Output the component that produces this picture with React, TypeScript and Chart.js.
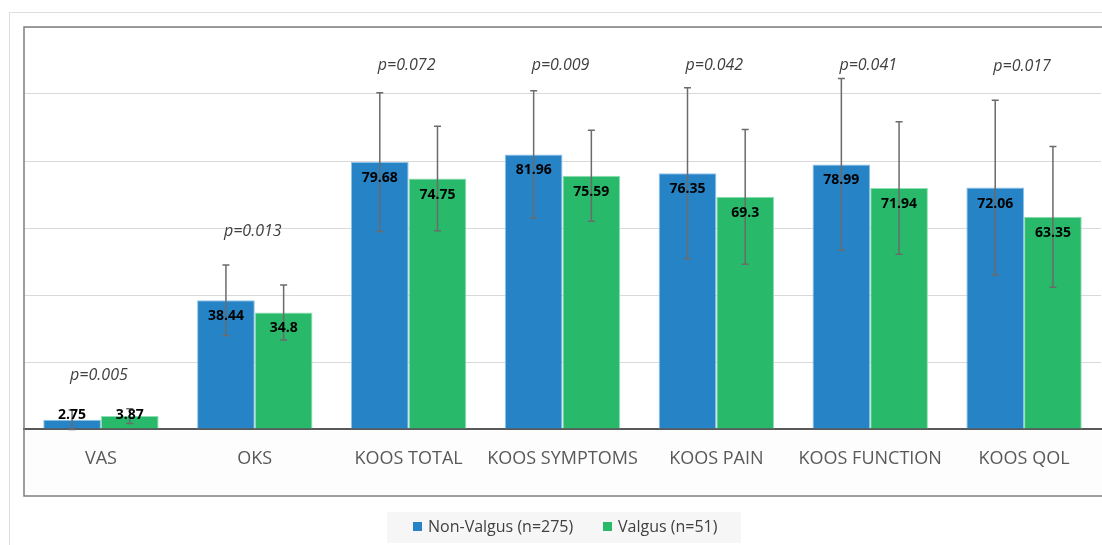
import React, { useEffect, useRef } from "react";
import { Chart, registerables } from "chart.js";

Chart.register(...registerables);

const categories = ["VAS", "OKS", "KOOS TOTAL", "KOOS SYMPTOMS", "KOOS PAIN", "KOOS FUNCTION", "KOOS QOL"];
const nonValgusLabel = "Non-Valgus (n=275)";
const valgusLabel = "Valgus (n=51)";
const nonValgusMeans = [2.75, 38.44, 79.68, 81.96, 76.35, 78.99, 72.06];
const nonValgusSD = [2.9, 10.5, 20.7, 19.0, 25.5, 25.6, 26.1];
const valgusMeans = [3.87, 34.8, 74.75, 75.59, 69.3, 71.94, 63.35];
const valgusSD = [2.2, 8.2, 15.6, 13.6, 20.1, 19.8, 21.0];
const pValues = ["p=0.005", "p=0.013", "p=0.072", "p=0.009", "p=0.042", "p=0.041", "p=0.017"];
const yMin = 0;
const yMax = 120;
const yStep = 20;

const BLUE = "#2683c6";
const GREEN = "#29b96a";
const FONT = "'Open Sans', sans-serif";

const sds = [nonValgusSD, valgusSD];
const means = [nonValgusMeans, valgusMeans];

const overlayPlugin = {
  id: "overlay",
  beforeDraw(chart: any) {
    const { ctx, width, height } = chart;
    ctx.save();
    ctx.fillStyle = "#ffffff";
    ctx.fillRect(0, 0, width, height);
    ctx.fillStyle = "#fdfdfd";
    ctx.fillRect(25, 430, width, 66);
    ctx.strokeStyle = "#dedede";
    ctx.lineWidth = 1;
    ctx.strokeRect(9.5, 12.5, width + 10, height + 10);
    ctx.restore();
  },
  afterDatasetsDraw(chart: any) {
    const { ctx } = chart;
    const y = chart.scales.y;
    const x = chart.scales.x;
    ctx.save();
    // error bars
    for (let d = 0; d < 2; d++) {
      const meta = chart.getDatasetMeta(d);
      meta.data.forEach((bar: any, i: number) => {
        const m = means[d][i];
        const s = sds[d][i];
        const yt = y.getPixelForValue(m + s);
        const yb = y.getPixelForValue(m - s);
        ctx.strokeStyle = "#6b6b6b";
        ctx.lineWidth = 1.5;
        ctx.beginPath();
        ctx.moveTo(bar.x, yt);
        ctx.lineTo(bar.x, yb);
        ctx.moveTo(bar.x - 3.5, yt);
        ctx.lineTo(bar.x + 3.5, yt);
        ctx.moveTo(bar.x - 3.5, yb);
        ctx.lineTo(bar.x + 3.5, yb);
        ctx.stroke();
      });
    }
    // value labels
    ctx.font = `bold 14px ${FONT}`;
    ctx.fillStyle = "#000000";
    ctx.textAlign = "center";
    ctx.textBaseline = "middle";
    for (let d = 0; d < 2; d++) {
      const meta = chart.getDatasetMeta(d);
      meta.data.forEach((bar: any, i: number) => {
        const ly = Math.min(bar.y + 16, bar.base - 13);
        ctx.fillText(String(means[d][i]), bar.x, ly);
      });
    }
    // p-values
    ctx.font = `italic 16px ${FONT}`;
    ctx.fillStyle = "#404040";
    pValues.forEach((p, i) => {
      const top = Math.max(nonValgusMeans[i] + nonValgusSD[i], valgusMeans[i] + valgusSD[i]);
      const v = Math.min(top + 10, 108.6);
      ctx.fillText(p, x.getPixelForValue(i) - 2, y.getPixelForValue(v));
    });
    ctx.restore();
  },
  afterDraw(chart: any) {
    const { ctx, width } = chart;
    ctx.save();
    // inner plot frame
    ctx.strokeStyle = "#7f7f7f";
    ctx.lineWidth = 1.5;
    ctx.strokeRect(24, 27, width + 10, 469);
    // legend
    ctx.fillStyle = "#f6f6f6";
    ctx.fillRect(387, 512, 354, 31);
    const items = [
      { label: nonValgusLabel, color: BLUE, x: 413 },
      { label: valgusLabel, color: GREEN, x: 603 },
    ];
    ctx.font = `16px ${FONT}`;
    ctx.textBaseline = "middle";
    ctx.textAlign = "left";
    items.forEach((it) => {
      ctx.fillStyle = it.color;
      ctx.fillRect(it.x, 522, 9, 9);
      ctx.fillStyle = "#404040";
      ctx.fillText(it.label, it.x + 15, 527);
    });
    ctx.restore();
  },
};

export default function App() {
  const ref = useRef<HTMLCanvasElement | null>(null);
  useEffect(() => {
    if (!ref.current) return;
    const chart = new Chart(ref.current, {
      type: "bar",
      data: {
        labels: categories,
        datasets: [
          {
            label: nonValgusLabel,
            data: nonValgusMeans,
            backgroundColor: BLUE,
            borderColor: "#8fc4ea",
            borderWidth: 1,
            categoryPercentage: 0.75,
            barPercentage: 1,
          },
          {
            label: valgusLabel,
            data: valgusMeans,
            backgroundColor: GREEN,
            borderColor: "#8ee0b2",
            borderWidth: 1,
            categoryPercentage: 0.75,
            barPercentage: 1,
          },
        ],
      },
      options: {
        responsive: false,
        animation: false,
        devicePixelRatio: 1,
        layout: { padding: { left: 24, top: 27, right: 1, bottom: 0 } },
        plugins: { legend: { display: false }, tooltip: { enabled: false } },
        scales: {
          x: {
            grid: { display: false, drawTicks: false },
            border: { display: true, color: "#595959", width: 2 },
            ticks: {
              color: "#595959",
              font: { family: FONT, size: 18 },
              padding: 19,
              maxRotation: 0,
              autoSkip: false,
            },
            afterFit(s: any) {
              s.height = 116;
            },
          },
          y: {
            min: yMin,
            max: yMax,
            ticks: { display: false, stepSize: yStep },
            grid: { color: "#d9d9d9", drawTicks: false },
            border: { display: false },
            afterFit(s: any) {
              s.width = 0;
            },
          },
        },
      },
      plugins: [overlayPlugin],
    });
    return () => chart.destroy();
  }, []);
  return (
    <div style={{ position: "fixed", left: 0, top: 0, width: 1102, height: 545 }}>
      <canvas ref={ref} width={1102} height={545} />
    </div>
  );
}
